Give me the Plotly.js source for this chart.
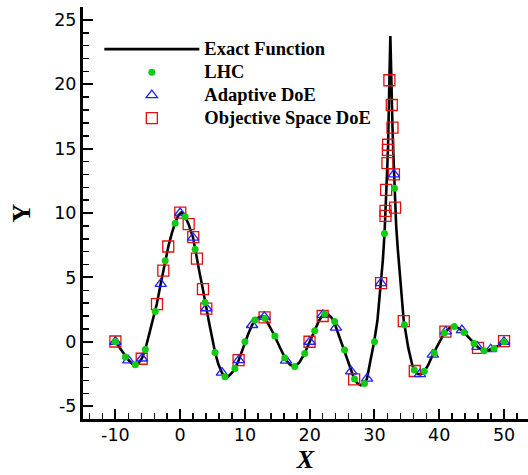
<!DOCTYPE html>
<html>
<head>
<meta charset="utf-8">
<script src="https://cdn.plot.ly/plotly-3.0.1.min.js"></script>
<style>html,body{margin:0;padding:0;background:#fff;}#chart{width:528px;height:475px;}</style>
</head>
<body>
<div id="chart"></div>
<script>
// Exact function
const curveX = [-10, -9, -8, -7.2, -6.4, -5.9, -5.4, -4.8, -4.2, -3.6, -3.0, -2.6, -2.3, -1.8, -1.3, -0.8, -0.3, 0.2, 0.8, 1.3, 2.0, 2.3, 2.6, 3.0, 3.5, 3.85, 4.05, 4.5, 5.0, 5.4, 5.9, 6.45, 6.9, 7.4, 8.0, 8.5, 9.05, 9.5, 10.0, 10.5, 11.1, 11.55, 12.2, 12.8, 13.1, 13.8, 14.6, 15.4, 16.2, 16.4, 17.0, 17.7, 18.4, 19.2, 20.0, 20.8, 21.4, 22.0, 22.4, 22.9, 23.4, 23.8, 24.05, 24.6, 25.3, 25.9, 26.4, 26.9, 27.4, 27.9, 28.45, 28.85, 29.4, 29.95, 30.45, 31.0, 31.3, 31.55, 31.7, 31.8, 32.0, 32.1, 32.2, 32.3, 32.45, 32.55, 32.67, 32.78, 32.9, 33.0, 33.08, 33.18, 33.35, 33.6, 33.86, 34.2, 34.52, 34.8, 35.2, 35.86, 36.2, 36.7, 37.2, 37.7, 38.3, 39.0, 39.5, 40.0, 40.8, 41.6, 42.3, 43.0, 43.85, 44.6, 45.4, 46.0, 46.5, 46.9, 47.5, 48.0, 48.5, 49.2, 50.0];
const curveY = [0, -0.75, -1.42, -1.82, -1.65, -1.3, -0.62, 0.55, 1.7, 2.95, 4.5, 5.5, 6.3, 7.45, 8.4, 9.2, 9.8, 10.05, 9.7, 9.13, 8.08, 7.2, 6.45, 5.35, 4.1, 3.05, 2.6, 1.4, 0.15, -0.85, -1.75, -2.4, -2.75, -2.72, -2.4, -2.05, -1.42, -0.75, 0.0, 0.6, 1.3, 1.68, 1.92, 1.95, 1.85, 1.25, 0.45, -0.45, -1.28, -1.46, -1.8, -1.95, -1.6, -0.92, 0.0, 0.85, 1.6, 2.08, 2.2, 2.1, 1.85, 1.5, 1.1, 0.35, -0.64, -1.55, -2.3, -2.93, -3.25, -3.38, -3.22, -2.86, -1.4, 0.0, 1.63, 4.55, 6.4, 8.4, 9.95, 11.79, 13.87, 15.3, 17.0, 20.3, 23.75, 20.8, 18.39, 16.63, 14.8, 13.1, 11.93, 10.42, 9.0, 7.2, 5.5, 2.95, 1.6, 0.8, -0.44, -1.86, -2.25, -2.5, -2.52, -2.3, -1.8, -1.0, -0.55, 0.0, 0.7, 1.08, 1.2, 1.05, 0.72, 0.3, -0.13, -0.42, -0.62, -0.72, -0.68, -0.58, -0.5, -0.3, 0.0];

// LHC samples
const lhcX = [-10, -8.46, -6.92, -5.38, -3.85, -2.31, -0.77, 0.77, 2.31, 3.85, 5.38, 6.92, 8.46, 10, 11.54, 13.08, 14.62, 16.15, 17.69, 19.23, 20.77, 22.31, 23.85, 25.38, 26.92, 28.46, 30, 31.54, 33.08, 34.62, 36.15, 37.69, 39.23, 40.77, 42.31, 43.85, 45.38, 46.92, 48.46, 50];
const lhcY = [0, -1.19, -1.78, -0.6, 2.35, 6.29, 9.21, 9.7, 7.19, 3.05, -0.83, -2.72, -2.07, 0, 1.68, 1.81, 0.44, -1.26, -1.92, -0.91, 0.85, 2.15, 1.58, -0.64, -2.89, -3.24, 0, 8.4, 11.93, 1.32, -2.2, -2.3, -0.88, 0.68, 1.19, 0.72, -0.13, -0.7, -0.52, 0];

// Adaptive DoE samples
const adX = [-10, -8.0, -5.9, -3.0, 0.0, 2.0, 4.05, 6.45, 9.05, 11.1, 13.0, 16.35, 20.0, 22.0, 24.05, 26.4, 28.85, 31.0, 33.0, 37.0, 39.0, 41.0, 43.5, 45.9, 47.95, 50.0];
const adY = [0.0, -1.45, -1.3, 4.5, 10.0, 8.08, 2.6, -2.4, -1.42, 1.3, 1.94, -1.46, 0.0, 2.08, 1.1, -2.3, -2.86, 4.55, 13.0, -2.52, -1.0, 0.8, 0.9, -0.4, -0.58, 0.0];

// Objective Space DoE samples
const osX = [-10.0, -5.94, -3.58, -2.6, -1.84, 0.02, 1.31, 2.02, 2.59, 3.52, 4.03, 9.02, 13.03, 19.97, 22.0, 26.86, 31.02, 31.7, 31.7, 31.8, 32.0, 32.07, 32.1, 32.3, 32.67, 32.78, 33.0, 33.18, 34.52, 36.22, 40.95, 45.98, 50.0];
const osY = [0.02, -1.32, 2.93, 5.53, 7.4, 10.03, 9.13, 8.12, 6.46, 4.09, 2.58, -1.42, 1.89, 0.0, 2.0, -2.93, 4.55, 10.16, 9.77, 11.79, 13.87, 14.9, 15.3, 20.31, 18.39, 16.63, 13.0, 10.42, 1.6, -2.27, 0.78, -0.47, 0.05];

const names = ["Exact Function", "LHC", "Adaptive DoE", "Objective Space DoE"];
const xTicks = [-10, 0, 10, 20, 30, 40, 50];
const yTicks = [-5, 0, 5, 10, 15, 20, 25];

const lbl = s => '<span style="font-size:18.5px">' + s + '</span>';

const traces = [
  {x: curveX, y: curveY, mode: 'lines', name: lbl(names[0]), legendrank: 1,
   line: {color: '#000000', width: 2.6}},
  {x: osX, y: osY, mode: 'markers', name: lbl(names[3]), legendrank: 4,
   marker: {symbol: 'square-open', size: 11, color: '#e01010', line: {width: 1.3}}},
  {x: adX, y: adY, mode: 'markers', name: lbl(names[2]), legendrank: 3,
   marker: {symbol: 'triangle-up-open', size: 10, color: '#2020ff', line: {width: 1.3}}},
  {x: lhcX, y: lhcY, mode: 'markers', name: lbl(names[1]), legendrank: 2,
   marker: {symbol: 'circle', size: 7, color: '#10cc10', line: {width: 0}}}
];

const axisCommon = {
  showgrid: false, zeroline: false, showline: true, linecolor: '#000', linewidth: 3,
  ticks: 'inside', ticklen: 10, tickwidth: 2, tickcolor: '#000',
  tickfont: {family: 'DejaVu Sans, sans-serif', size: 17.5, color: '#000'},
  mirror: false
};

const layout = {
  width: 528, height: 475,
  margin: {l: 83, r: 0, t: 7, b: 56},
  paper_bgcolor: '#fff', plot_bgcolor: '#fff',
  showlegend: true,
  legend: {
    x: 0.0367, y: 0.9378, xanchor: 'left', yanchor: 'top',
    bgcolor: 'rgba(255,255,255,0)', borderwidth: 0,
    itemwidth: 95, traceorder: 'normal',
    font: {family: 'Liberation Serif, Times New Roman, serif', size: 15.4, color: '#000', weight: 'bold'}
  },
  xaxis: Object.assign({}, axisCommon, {
    range: [-15, 53.7], tickvals: xTicks, ticktext: xTicks.map(String),
    ticklabelstandoff: -2,
    minor: {dtick: 2, tick0: 0, ticks: 'inside', ticklen: 6, tickwidth: 1.5, tickcolor: '#000'},
    title: {text: 'X', standoff: 6, font: {family: 'Liberation Serif, Times New Roman, serif', size: 26, color: '#000', weight: 'bold', style: 'italic'}}
  }),
  yaxis: Object.assign({}, axisCommon, {
    range: [-6, 26], tickvals: yTicks, ticktext: yTicks.map(String),
    minor: {dtick: 1, tick0: 0, ticks: 'inside', ticklen: 6, tickwidth: 1.5, tickcolor: '#000'},
    title: {text: 'Y', standoff: 17, font: {family: 'Liberation Serif, Times New Roman, serif', size: 26, color: '#000', weight: 'bold'}}
  })
};

Plotly.newPlot('chart', traces, layout, {displayModeBar: false, staticPlot: true});
</script>
</body>
</html>
